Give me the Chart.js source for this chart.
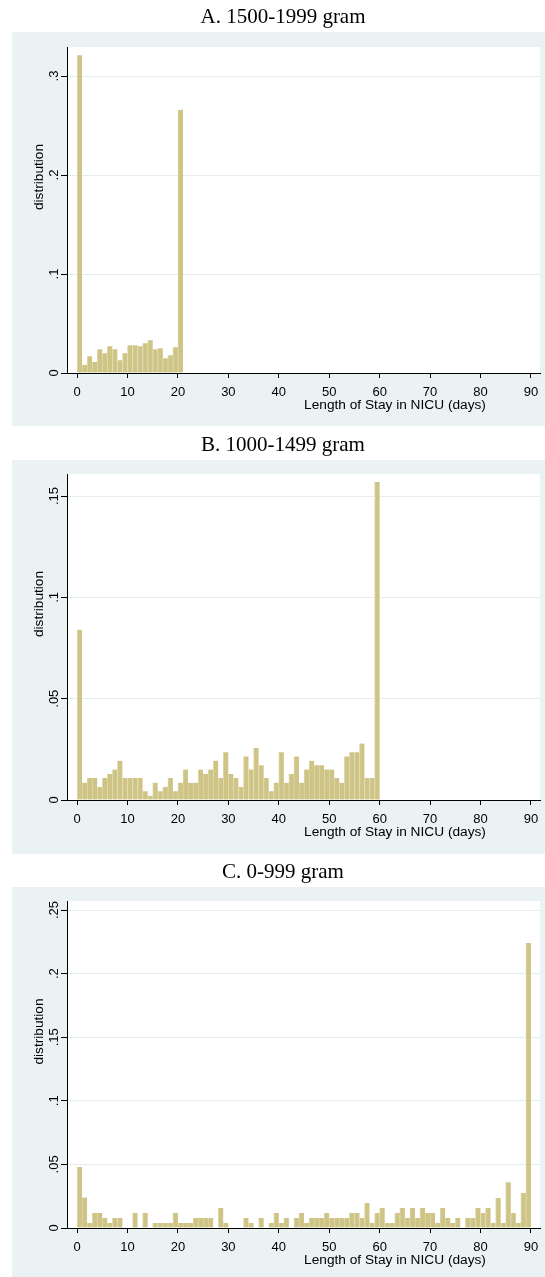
<!DOCTYPE html>
<html><head><meta charset="utf-8">
<script src="https://cdn.jsdelivr.net/npm/chart.js@4/dist/chart.umd.min.js"></script>
<style>
html,body{margin:0;padding:0;background:#fff;width:545px;height:1277px;overflow:hidden;}
.panel{position:absolute;left:0;width:545px;}
canvas{display:block;}
</style></head><body>
<div class="panel" style="top:0;height:428px"><canvas id="cA" width="545" height="428"></canvas></div>
<div class="panel" style="top:428px;height:427px"><canvas id="cB" width="545" height="427"></canvas></div>
<div class="panel" style="top:855px;height:422px"><canvas id="cC" width="545" height="422"></canvas></div>
<script>
// ---- data ----
const panelTitles = ["A. 1500-1999 gram", "B. 1000-1499 gram", "C. 0-999 gram"];
const xTitle = "Length of Stay in NICU (days)";
const yTitle = "distribution";
const xTickValues = [0, 10, 20, 30, 40, 50, 60, 70, 80, 90];

const daysA = [0,1,2,3,4,5,6,7,8,9,10,11,12,13,14,15,16,17,18,19,20];
const distA = [0.321,0.008,0.017,0.011,0.024,0.020,0.027,0.024,0.013,0.020,0.028,0.028,0.027,0.030,0.033,0.024,0.025,0.015,0.018,0.026,0.266];
const yTicksA = [0, 0.1, 0.2, 0.3];

const daysB = [0,1,2,3,4,5,6,7,8,9,10,11,12,13,14,15,16,17,18,19,20,21,22,23,24,25,26,27,28,29,30,31,32,33,34,35,36,37,38,39,40,41,42,43,44,45,46,47,48,49,50,51,52,53,54,55,56,57,58,59];
const distB = [0.084,0.0085,0.0108,0.0108,0.0064,0.0108,0.0128,0.015,0.0194,0.0108,
               0.0108,0.0108,0.0108,0.0043,0.0021,0.0085,0.0043,0.0064,0.0108,0.0043,
               0.0085,0.015,0.0085,0.0085,0.015,0.0128,0.015,0.0194,0.0108,0.0236,
               0.0128,0.0108,0.0064,0.0215,0.015,0.0258,0.0172,0.0108,0.0043,0.0085,
               0.0236,0.0085,0.0128,0.0215,0.0085,0.015,0.0194,0.0172,0.0172,0.015,
               0.015,0.0108,0.0085,0.0215,0.0236,0.0236,0.0279,0.0108,0.0108,0.157];
const yTicksB = [0, 0.05, 0.1, 0.15];

const daysC = [0,1,2,3,4,5,6,7,8,9,10,11,12,13,14,15,16,17,18,19,20,21,22,23,24,25,26,27,28,29,30,31,32,33,34,35,36,37,38,39,40,41,42,43,44,45,46,47,48,49,50,51,52,53,54,55,56,57,58,59,60,61,62,63,64,65,66,67,68,69,70,71,72,73,74,75,76,77,78,79,80,81,82,83,84,85,86,87,88,89];
const distC = [0.048,0.024,0.0039,0.0118,0.0118,0.0079,0.0039,0.0079,0.0079,0,
               0,0.0118,0,0.0118,0,0.0039,0.0039,0.0039,0.0039,0.0118,
               0.0039,0.0039,0.0039,0.0079,0.0079,0.0079,0.0079,0,0.0157,0.0039,
               0,0,0,0.0079,0.0039,0,0.0079,0,0.0039,0.0118,
               0.0039,0.0079,0,0.0079,0.0118,0.0039,0.0079,0.0079,0.0079,0.0118,
               0.0079,0.0079,0.0079,0.0079,0.0118,0.0118,0.0079,0.0197,0.0039,0.0118,
               0.0157,0.0039,0.0039,0.0118,0.0157,0.0079,0.0157,0.0079,0.0157,0.0118,
               0.0118,0.0039,0.0157,0.0079,0.0039,0.0079,0,0.0079,0.0079,0.0157,
               0.0118,0.0157,0.0039,0.0236,0.0039,0.036,0.0118,0.0039,0.0276,0.224];
const yTicksC = [0, 0.05, 0.1, 0.15, 0.2, 0.25];

// ---- style ----
const BG = '#eaf2f3';
const GRID = '#e4eced';
const BAR = 'rgb(206,196,134)';
const BAR_EDGE = 'rgb(222,214,170)';
const SANS = "'Liberation Sans', Arial, sans-serif";
const SERIF = "'Liberation Serif', 'Times New Roman', serif";

function fmt(v) {
  if (Math.abs(v) < 1e-9) return '0';
  return String(+v.toFixed(3)).replace(/^0\./, '.');
}

function makePanel(canvasId, title, days, dist, yTicks, yMax, top, bottom) {
  const canvas = document.getElementById(canvasId);
  const H = canvas.height;
  const decor = {
    id: 'decor',
    beforeDraw(chart) {
      const ctx = chart.ctx, a = chart.chartArea;
      ctx.save();
      ctx.fillStyle = '#fff';
      ctx.fillRect(0, 0, chart.width, chart.height);
      ctx.fillStyle = BG;
      ctx.fillRect(12, 32, 545 - 12, 394);
      ctx.fillStyle = '#fff';
      ctx.fillRect(a.left, a.top, a.right - a.left, a.bottom - a.top);
      ctx.fillStyle = '#000';
      ctx.font = "21px " + SERIF;
      ctx.textAlign = 'center';
      ctx.textBaseline = 'alphabetic';
      ctx.fillText(title, 283, 23);
      ctx.restore();
    },
    afterDraw(chart) {
      const ctx = chart.ctx, a = chart.chartArea;
      const xs = chart.scales.x, ys = chart.scales.y;
      ctx.save();
      ctx.fillStyle = '#000';
      ctx.font = "13px " + SANS;
      ctx.textAlign = 'center';
      ctx.textBaseline = 'alphabetic';
      xs.ticks.forEach(t => {
        ctx.fillText(fmt(t.value), xs.getPixelForValue(t.value), a.bottom + 23);
      });
      ys.ticks.forEach(t => {
        ctx.save();
        ctx.translate(58, ys.getPixelForValue(t.value));
        ctx.rotate(-Math.PI / 2);
        ctx.fillText(fmt(t.value), 0, 0);
        ctx.restore();
      });
      ctx.font = "13.7px " + SANS;
      ctx.fillText(xTitle, 395, a.bottom + 36);
      ctx.save();
      ctx.translate(43, (a.top + a.bottom) / 2 - 33);
      ctx.rotate(-Math.PI / 2);
      ctx.fillText(yTitle, 0, 0);
      ctx.restore();
      ctx.restore();
    }
  };
  return new Chart(canvas, {
    type: 'bar',
    data: {
      datasets: [{
        data: days.map((d, i) => ({ x: d + 0.5, y: dist[i] })),
        backgroundColor: BAR,
        borderColor: BAR_EDGE,
        borderWidth: { left: 1, right: 0, top: 0, bottom: 0 },
        borderSkipped: false,
        barPercentage: 1,
        categoryPercentage: 1
      }]
    },
    options: {
      responsive: false,
      maintainAspectRatio: false,
      animation: false,
      devicePixelRatio: 1,
      layout: { padding: { left: 0, top: top, right: 5, bottom: 0 } },
      plugins: { legend: { display: false }, tooltip: { enabled: false }, title: { display: false } },
      scales: {
        x: {
          type: 'linear', min: -2, max: 91.8, offset: false,
          afterBuildTicks: s => { s.ticks = xTickValues.map(v => ({ value: v })); },
          ticks: { display: false },
          grid: { offset: false, drawOnChartArea: false, drawTicks: true, tickLength: 5, tickColor: '#000', tickWidth: 1 },
          border: { display: true, color: '#000', width: 1 },
          afterFit: s => { s.height = H - bottom; }
        },
        y: {
          type: 'linear', min: 0, max: yMax,
          afterBuildTicks: s => { s.ticks = yTicks.map(v => ({ value: v })); },
          ticks: { display: false },
          grid: { color: GRID, lineWidth: 1, drawTicks: true, tickLength: 6, tickColor: '#000', tickWidth: 1 },
          border: { display: true, color: '#000', width: 1 },
          afterFit: s => { s.width = 67; }
        }
      }
    },
    plugins: [decor]
  });
}

makePanel('cA', panelTitles[0], daysA, distA, yTicksA, 0.3293, 47, 373);
makePanel('cB', panelTitles[1], daysB, distB, yTicksB, 0.1609, 46, 372);
makePanel('cC', panelTitles[2], daysC, distC, yTicksC, 0.2571, 46, 373);
</script>
</body></html>
